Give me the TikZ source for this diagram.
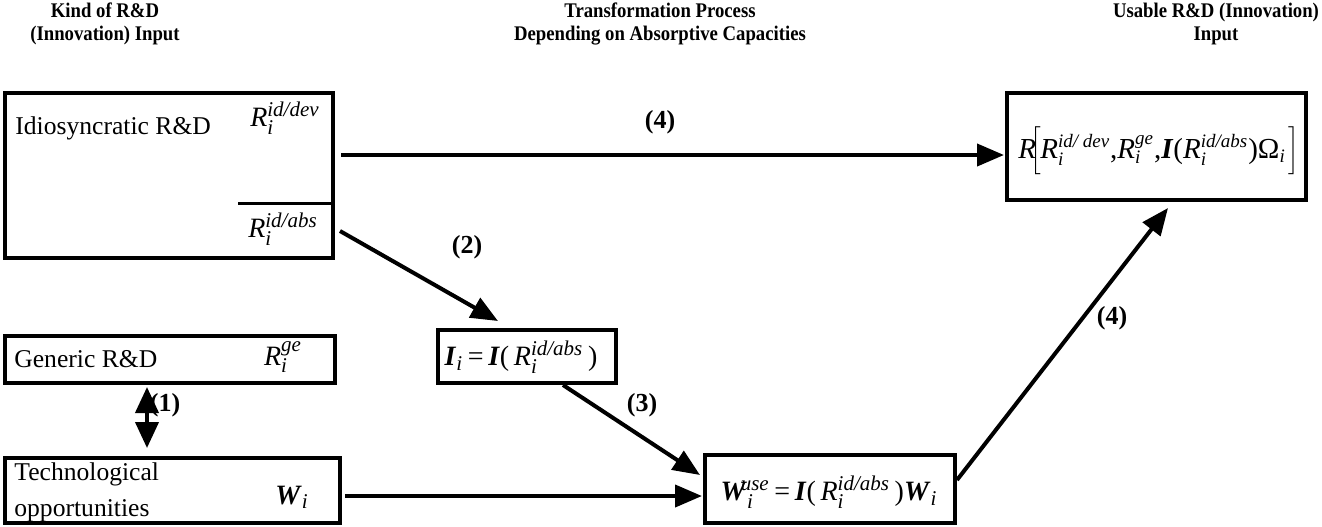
\documentclass[tikz,border=0pt]{standalone}
\usepackage{fontspec}
\setmainfont{Liberation Serif}
\newfontfamily\hdfont[FakeStretch=0.9]{Liberation Serif}
\usetikzlibrary{arrows.meta,calc}
\def\subsz{10.5}
\newcommand\supsub[2]{$_{\hbox{\fontsize{\subsz}{\subsz}\selectfont\itshape #1}}^{\hbox{\fontsize{\subsz}{\subsz}\selectfont\itshape #2}}$}
\newcommand\subonly[1]{$_{\hbox{\fontsize{\subsz}{\subsz}\selectfont\itshape #1}}$}
\newcommand\Rv[1]{\textit{R}\supsub{i}{#1}}
\newcommand\Lb{\textbf{\textit{I}}}
\newcommand\Wb{\textbf{\textit{W}}}
\newcommand\bigbr[1]{$\left#1\vrule height 13pt depth 8.5pt width 0pt\right.$}
\begin{document}
\begin{tikzpicture}[x=0.5pt,y=-0.5pt,
  box/.style={draw,line width=2.4pt,inner sep=0pt,outer sep=0pt},
  arr/.style={line width=2pt,-{Triangle[length=13.5pt,width=11pt]}},
  darr/.style={line width=2pt,{Triangle[length=13pt,width=11.5pt]}-{Triangle[length=13pt,width=11.5pt]}},
  hd/.style={align=center,font=\hdfont\bfseries\fontsize{10.4}{11.5}\selectfont,inner sep=0pt},
  txt/.style={font=\fontsize{12.8}{18}\selectfont,inner sep=0pt,anchor=west},
  fm/.style={font=\fontsize{14}{16}\selectfont,inner sep=0pt},
  lbl/.style={font=\bfseries\fontsize{13}{15}\selectfont,inner sep=0pt}]
\fill[white] (0,0) rectangle (1322,526);
\useasboundingbox (0,0) rectangle (1322,526);
% headers
\node[hd] (h1) at (105,23.5) {Kind of R\&D\\(Innovation) Input};
\node[hd] (h2) at (660,23.5) {Transformation Process\\Depending on Absorptive Capacities};
\node[hd] (h3) at (1216,23.5) {Usable R\&D (Innovation)\\Input};
% boxes
\node[box,minimum width=164pt,minimum height=82.5pt] (idio) at (169,175.5) {};
\node[box,minimum width=149.5pt,minimum height=53.5pt] (usable) at (1156.5,146.5) {};
\node[box,minimum width=165pt,minimum height=23.5pt] (gen) at (170,359.5) {};
\node[box,minimum width=167.5pt,minimum height=32.5pt] (tech) at (172.5,490.5) {};
\node[box,minimum width=89pt,minimum height=26.5pt] (lam) at (527,356.5) {};
\node[box,minimum width=125pt,minimum height=34pt] (omg) at (830,489) {};
% texts
\node[txt] (tidio) at (15,128) {Idiosyncratic R\&D};
\node[fm] (rdev) at (285,118) {\Rv{id/dev}};
\coordinate (divl) at (238,203);
\draw[line width=1.5pt] (divl) -- (divl -| idio.east);
\node[fm] (rabs) at (283,229) {\Rv{id/abs}};
\node[txt] (tgen) at (14,359) {Generic R\&D};
\node[fm] (rge) at (283,357) {\Rv{ge}};
\node[txt,align=left] (ttech) at (14,492) {Technological\\opportunities};
\node[fm] (wi) at (292,497) {\Wb\subonly{i}};
\node[fm] (flam) at (521,357) {\Lb\subonly{i}\,=\,\Lb(\,\Rv{id/abs}\,)};
\node[fm] (fomg) at (829,492) {\Wb\supsub{i}{\kern-0.3em use}\,=\,\Lb(\,\Rv{id/abs}\,)\Wb\subonly{i}};
\node[font=\fontsize{14.5}{17}\selectfont,inner sep=0pt] (fus) at (1160,151) {\def\subsz{9.5}\textit{R}\kern-0.2em\bigbr[\kern-0.1em\Rv{id/ dev},\Rv{ge},\Lb(\Rv{id/abs})Ω\subonly{i}\kern0.1em\bigbr]};
% labels
\node[lbl] (l4a) at (660,122) {(4)};
\node[lbl] (l2) at (467,247) {(2)};
\node[lbl] (l3) at (642,405) {(3)};
\node[lbl] (l4b) at (1112,318) {(4)};
\node[lbl] (l1) at (165,405) {(1)};
% connectors
\coordinate (a4s) at ($(idio.east)+(8,-20.5)$);
\draw[arr,shorten >=1.5pt] (a4s) -- (a4s -| usable.west);
\coordinate (a2s) at ($(idio.east)+(7,55.5)$);
\coordinate (a2e) at ($(lam.north)+(-29,-9)$);
\draw[arr] (a2s) -- (a2e);
\coordinate (a3s) at ($(lam.south)+(36,2)$);
\coordinate (a3e) at ($(omg.west)+(-5,-14)$);
\draw[arr] (a3s) -- (a3e);
\coordinate (ats) at ($(tech.east)+(5,5.5)$);
\draw[arr,shorten >=1.5pt] (ats) -- (ats -| omg.west);
\coordinate (a4t) at ($(omg.north east)+(2,25)$);
\coordinate (a4u) at ($(usable.south)+(11.5,8)$);
\draw[arr] (a4t) -- (a4u);
\coordinate (a1s) at ($(gen.south)+(-23,4)$);
\draw[darr,shorten >=5pt] (a1s) -- (a1s |- tech.north);
\end{tikzpicture}
\end{document}
